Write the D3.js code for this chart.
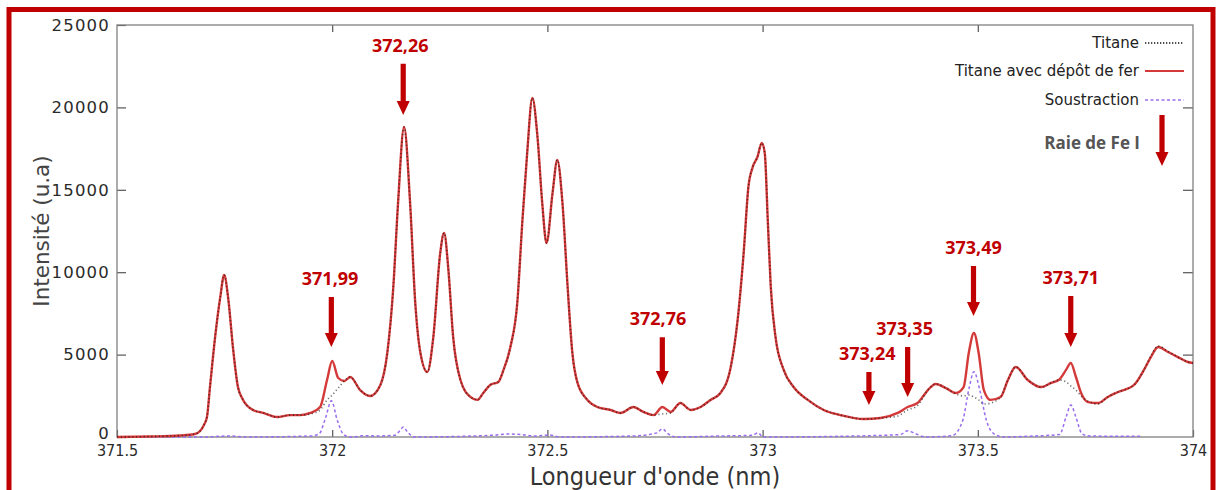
<!DOCTYPE html>
<html><head><meta charset="utf-8">
<script src="https://cdn.jsdelivr.net/npm/d3@7/dist/d3.min.js"></script>
<style>
body{margin:0;background:#fff;}
svg{display:block;}
</style></head>
<body><svg id="chart" width="1221" height="490"></svg>
<script>
// ---------- DATA ----------
const wavelengths = [371.500,371.577,371.647,371.681,371.693,371.702,371.709,371.716,371.728,371.740,371.749,371.758,371.770,371.781,371.793,371.816,371.840,371.872,371.902,371.926,371.949,371.972,371.988,372.000,372.014,372.028,372.042,372.065,372.088,372.112,372.128,372.142,372.153,372.167,372.181,372.193,372.205,372.221,372.235,372.251,372.260,372.270,372.281,372.298,372.321,372.337,372.351,372.367,372.386,372.398,372.414,372.430,372.442,372.453,372.465,372.477,372.488,372.498,372.512,372.523,372.535,372.547,372.558,372.570,372.593,372.616,372.647,372.670,372.700,372.723,372.747,372.767,372.786,372.809,372.833,372.856,372.879,372.902,372.926,372.942,372.956,372.967,372.977,372.988,372.998,373.005,373.012,373.019,373.030,373.049,373.072,373.105,373.142,373.181,373.235,373.274,373.314,373.337,373.360,373.384,373.402,373.426,373.449,373.467,373.479,373.491,373.502,373.514,373.530,373.553,373.570,373.588,373.616,373.647,373.670,373.688,373.705,373.716,373.728,373.740,373.756,373.779,373.802,373.826,373.863,373.886,373.902,373.919,373.942,373.965,373.988,374.000];

// "Titane avec dépôt de fer" (red, solid)
const titaneFer = [0,30,90,180,360,730,1210,3030,6070,8500,9830,8500,5280,3030,2250,1640,1460,1210,1330,1330,1460,1820,3460,4610,3580,3400,3640,2850,2490,3160,5100,9100,14200,18810,14200,8130,5100,3940,6070,11170,12380,10130,6070,3460,2430,2250,2670,3160,3340,4070,5460,8130,13170,17230,20570,18200,14200,11770,14810,16810,14200,9100,5100,3280,2250,1820,1640,1460,1820,1520,1330,1820,1520,2060,1640,1820,2250,2670,4250,7100,11170,15170,16380,16990,17840,17230,13170,9100,6070,4070,3030,2250,1640,1330,1090,1150,1460,1820,2060,2850,3220,2970,2670,3030,5100,6310,5100,2850,2250,2430,3460,4250,3460,3030,3280,3460,4070,4490,3640,2670,2120,2060,2430,2730,3160,4070,4850,5460,5160,4850,4550,4490];

// "Titane" (black, dotted)
const titane = [0,30,90,180,360,730,1210,3030,6070,8500,9830,8500,5280,3030,2250,1640,1460,1210,1330,1330,1400,1640,2250,2550,2970,3400,3640,2850,2490,3160,5100,9100,14200,18810,14200,8130,5100,3940,6070,11170,12380,10130,6070,3460,2430,2250,2670,3160,3340,4070,5460,8130,13170,17230,20570,18200,14200,11770,14810,16810,14200,9100,5100,3280,2250,1820,1640,1460,1820,1520,1330,1400,1450,2060,1640,1820,2250,2670,4250,7100,11170,15170,16380,16990,17840,17230,13170,9100,6070,4070,3030,2250,1640,1330,1090,1150,1270,1640,1900,2850,3220,2970,2610,2490,2550,2430,2250,2000,2060,2430,3460,4250,3460,3030,3280,3460,3340,3100,2850,2490,2180,2000,2430,2730,3160,4070,4900,5520,5200,4850,4550,4490];

// "Soustraction" (purple, dashed)
const soustractionX = [371.500,371.700,371.760,371.800,371.950,371.970,371.985,371.998,372.012,372.025,372.040,372.080,372.100,372.145,372.158,372.165,372.175,372.190,372.300,372.380,372.410,372.440,372.470,372.505,372.530,372.700,372.755,372.767,372.780,372.800,372.900,372.975,372.990,373.000,373.200,373.250,373.320,373.337,373.355,373.380,373.440,373.465,373.480,373.491,373.505,373.520,373.540,373.560,373.620,373.690,373.705,373.716,373.728,373.742,373.760,373.800,373.880];
const soustractionY = [0,0,60,0,60,200,1200,2200,1000,200,0,80,60,100,400,600,300,0,40,120,180,150,60,120,0,60,250,500,200,0,60,100,250,0,50,80,150,380,200,0,80,1000,3000,3960,2800,1000,150,0,50,150,1200,1940,1200,200,60,50,40];

const xTicks = [371.5,372,372.5,373,373.5,374];
const xTickLabels = ["371.5","372","372.5","373","373.5","374"];
const yTicks = [0,5000,10000,15000,20000,25000];

const legendLabels = ["Titane","Titane avec dépôt de fer","Soustraction"];

// Annotations (Fe I lines)
const annLabels = ["371,99","372,26","372,76","373,24","373,35","373,49","373,71"];
const annX      = [371.998,372.165,372.767,373.247,373.337,373.490,373.716];
const annTip    = [5460,19540,3155,1940,2430,7340,5460];
const annTop    = [8500,22650,6060,3940,5460,10380,8560];
const annLabelX = [371.995,372.158,372.757,373.243,373.330,373.490,373.716];

// ---------- DRAW ----------
const svg = d3.select("#chart");
const L = 117, R = 1193, T = 25, B = 437;
const x = d3.scaleLinear().domain([371.5,374]).range([L,R]);
const y = d3.scaleLinear().domain([0,25000]).range([B,T]);

const red = "#d43a3a", annRed = "#c00000", purple = "#9a6cf0";

// outer red frame
svg.append("rect").attr("x",9).attr("y",9.5).attr("width",1204).attr("height",500)
  .attr("fill","none").attr("stroke",annRed).attr("stroke-width",5);

// axes
const gL = svg.append("g").attr("transform",`translate(${L},0)`)
  .call(d3.axisLeft(y).tickValues(yTicks).tickSize(-9).tickPadding(7).tickFormat(d3.format("d")));
const gR = svg.append("g").attr("transform",`translate(${R},0)`)
  .call(d3.axisRight(y).tickValues(yTicks.slice(1,-1)).tickSize(-10).tickFormat(""));
const gB = svg.append("g").attr("transform",`translate(0,${B})`)
  .call(d3.axisBottom(x).tickValues(xTicks).tickSize(-7).tickPadding(8).tickFormat((d,i)=>xTickLabels[i]));
const gT = svg.append("g").attr("transform",`translate(0,${T})`)
  .call(d3.axisTop(x).tickValues(xTicks.slice(1,-1)).tickSize(-7).tickFormat(""));
[gL,gR,gB,gT].forEach(g=>{
  g.select(".domain").remove();
  g.selectAll(".tick line").attr("stroke","#555").attr("stroke-width",1.2);
});
gL.selectAll("text").attr("font-family","'DejaVu Sans', Verdana, sans-serif").attr("font-size",16.5)
  .attr("letter-spacing","1.2px").attr("fill","#2a2a2a");
gL.selectAll(".tick").filter(d=>d===0).select("text").attr("dy","0.1em");
gB.selectAll("text").attr("font-family","'DejaVu Sans Condensed','Liberation Sans Narrow','DejaVu Sans',sans-serif")
  .attr("font-stretch","condensed").attr("font-size",16).attr("fill","#2a2a2a");

// plot box
svg.append("rect").attr("x",L).attr("y",T).attr("width",R-L).attr("height",B-T)
  .attr("fill","none").attr("stroke","#808080").attr("stroke-width",1.3);

// lines
const line = d3.line().curve(d3.curveMonotoneX);
const ptsRed = wavelengths.map((w,i)=>[x(w),y(titaneFer[i])]);
const ptsBlk = wavelengths.map((w,i)=>[x(w),y(titane[i])]);
const ptsPur = soustractionX.map((w,i)=>[x(w),y(soustractionY[i])]);

svg.append("path").attr("d",line(ptsPur)).attr("fill","none")
  .attr("stroke",purple).attr("stroke-width",1.5).attr("stroke-dasharray","3,2.5");
svg.append("path").attr("d",line(ptsRed)).attr("fill","none")
  .attr("stroke",red).attr("stroke-width",2.4);
svg.append("path").attr("d",line(ptsBlk)).attr("fill","none")
  .attr("stroke","#111").attr("stroke-width",1.6).attr("stroke-dasharray","1.2,2.6").attr("opacity",0.6);

// axis titles
svg.append("text").attr("x",655).attr("y",485).attr("text-anchor","middle")
  .attr("font-family","'DejaVu Sans Condensed','Liberation Sans Narrow','DejaVu Sans',sans-serif").attr("font-stretch","condensed")
  .attr("font-size",25).attr("fill","#333").text("Longueur d'onde (nm)");
svg.append("text").attr("transform","translate(49,231) rotate(-90)").attr("text-anchor","middle")
  .attr("font-family","'DejaVu Sans', Verdana, sans-serif").attr("font-size",21.5).attr("fill","#444")
  .text("Intensité (u.a)");

// legend
const legY = [43,71,100];
const lg = svg.append("g");
legendLabels.forEach((t,i)=>{
  lg.append("text").attr("x",1139).attr("y",legY[i]).attr("dy","0.35em").attr("text-anchor","end")
    .attr("font-family","'DejaVu Sans', Verdana, sans-serif").attr("font-size",15).attr("fill","#222").text(t);
});
lg.append("line").attr("x1",1145).attr("x2",1184).attr("y1",legY[0]).attr("y2",legY[0])
  .attr("stroke","#111").attr("stroke-width",1.6).attr("stroke-dasharray","1.3,1.7");
lg.append("line").attr("x1",1145).attr("x2",1184).attr("y1",legY[1]).attr("y2",legY[1])
  .attr("stroke",red).attr("stroke-width",2.2);
lg.append("line").attr("x1",1145).attr("x2",1184).attr("y1",legY[2]).attr("y2",legY[2])
  .attr("stroke",purple).attr("stroke-width",1.5).attr("stroke-dasharray","3,2.5");

function arrow(g, cx, y0, y1){
  const head = 14, hw = 6.5, sw = 2.6;
  g.append("path").attr("fill",annRed)
    .attr("d",`M${cx-sw},${y0} L${cx+sw},${y0} L${cx+sw},${y1-head} L${cx+hw},${y1-head} L${cx},${y1} L${cx-hw},${y1-head} L${cx-sw},${y1-head} Z`);
}
lg.append("text").attr("x",1140).attr("y",143).attr("dy","0.35em").attr("text-anchor","end")
  .attr("font-family","'Open Sans', sans-serif").attr("font-weight","bold").attr("font-size",17)
  .attr("fill","#555").text("Raie de Fe I");
arrow(lg, 1162, 115, 166);

// annotations
const ag = svg.append("g");
annLabels.forEach((t,i)=>{
  const cx = x(annX[i]);
  const top = y(annTop[i]);
  arrow(ag, cx, top, y(annTip[i]));
  ag.append("text").attr("x",x(annLabelX[i])).attr("y",top-12).attr("text-anchor","middle")
    .attr("font-family","'Open Sans', sans-serif").attr("font-weight","bold").attr("font-size",18)
    .attr("fill",annRed).text(t);
});
</script></body></html>
